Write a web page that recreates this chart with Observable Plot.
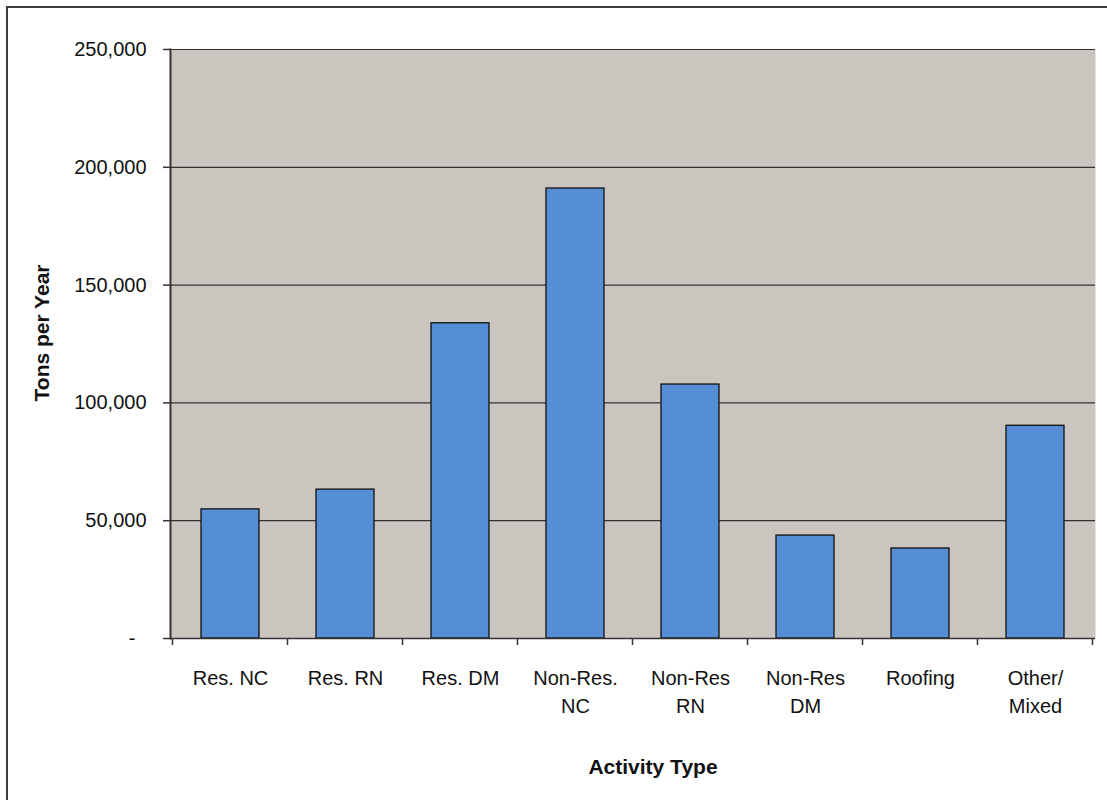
<!DOCTYPE html>
<html>
<head>
<meta charset="utf-8">
<script src="https://cdn.jsdelivr.net/npm/d3@7"></script>
<script src="https://cdn.jsdelivr.net/npm/@observablehq/plot@0.6"></script>
<style>
  html, body { margin: 0; padding: 0; background: #fff; overflow: hidden; }
  #wrap { position: relative; width: 1107px; height: 800px; }
  #border { position: absolute; left: 6px; top: 6px; width: 1300px; height: 1000px;
            border-top: 2px solid #3c3c3c; border-left: 2px solid #3c3c3c; box-sizing: border-box; }
  #chart { position: absolute; left: 0; top: 0; }
</style>
</head>
<body>
<div id="wrap"><div id="border"></div><div id="chart"></div></div>
<script>
// Activity types (tick labels, with line breaks as shown under the axis)
const categories = ["Res. NC", "Res. RN", "Res. DM", "Non-Res.\nNC", "Non-Res\nRN", "Non-Res\nDM", "Roofing", "Other/\nMixed"];
// Tons per year for each activity type
const tons = [54800, 63200, 133800, 191000, 107800, 43700, 38200, 90300];
// Value axis ticks
const yTicks = [0, 50000, 100000, 150000, 200000, 250000];

const rows = categories.map((c, i) => ({activity: c, tons: tons[i]}));

const lineColor = "#333";
const fmt = d3.format(",");

// Small tick marks at the boundaries between categories
const boundaryTicks = (index, scales, values, dims) => {
  const x = scales.x;
  const pad = (x.step() - x.bandwidth()) / 2;
  const edges = categories.map(c => x(c) - pad)
    .concat(x(categories[categories.length - 1]) + x.bandwidth() + pad);
  const y0 = dims.height - dims.marginBottom;
  const g = d3.create("svg:g").attr("stroke", lineColor).attr("stroke-width", 1.5);
  g.selectAll("line").data(edges).join("line")
    .attr("x1", d => d).attr("x2", d => d)
    .attr("y1", y0).attr("y2", y0 + 7);
  return g.node();
};

const chart = Plot.plot({
  width: 1107,
  height: 800,
  marginLeft: 170,
  marginRight: 12,
  marginTop: 49,
  marginBottom: 162,
  style: {fontFamily: "'Liberation Sans', Arial, sans-serif", fontSize: "20px", color: "#111", background: "transparent"},
  x: {domain: categories, paddingInner: 0.5, paddingOuter: 0.25, label: null},
  y: {domain: [0, 250000], label: null},
  marks: [
    Plot.frame({fill: "#cbc5bf", stroke: null}),
    Plot.gridY(yTicks, {stroke: lineColor, strokeOpacity: 1, strokeWidth: 1.2}),
    Plot.barY(rows, {x: "activity", y: "tons", fill: "#558ed5", stroke: "#111", strokeWidth: 1.3}),
    Plot.axisY(yTicks, {
      tickSize: 7, tickPadding: 17, stroke: lineColor, strokeWidth: 1.5,
      tickFormat: d => d === 0 ? "-\u2007" : fmt(d), label: null, fontSize: 20
    }),
    Plot.axisX({tickSize: 0, tickPadding: 27, lineHeight: 1.4, label: null, fontSize: 20}),
    Plot.ruleY([0], {stroke: lineColor, strokeWidth: 1.5}),
    Plot.frame({anchor: "left", stroke: lineColor, strokeWidth: 2}),
    boundaryTicks,
    Plot.text(["Tons per Year"], {frameAnchor: "left", textAnchor: "middle", lineAnchor: "middle", rotate: -90, dx: -128, dy: -11, fontWeight: "bold", fontSize: 21}),
    Plot.text(["Activity Type"], {frameAnchor: "bottom", textAnchor: "middle", lineAnchor: "middle", dx: 20, dy: 129, fontWeight: "bold", fontSize: 21})
  ]
});
document.getElementById("chart").appendChild(chart);
</script>
</body>
</html>
